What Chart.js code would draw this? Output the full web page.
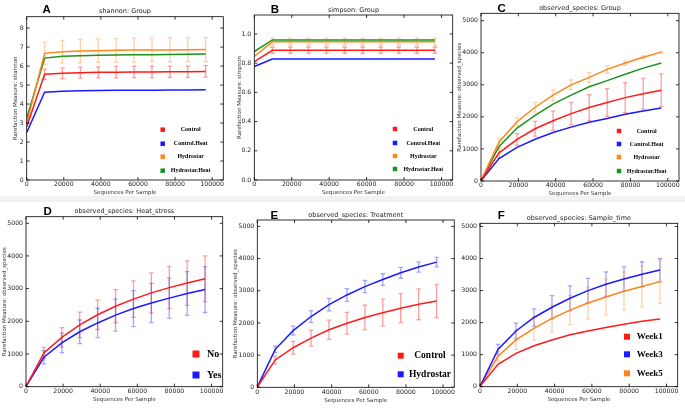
<!DOCTYPE html>
<html>
<head>
<meta charset="utf-8">
<script src="https://cdn.jsdelivr.net/npm/chart.js@4"></script>
<style>
body{margin:0;width:685px;height:408px;background:#fff;position:relative;overflow:hidden}
canvas{position:absolute}
.band{position:absolute;left:0;top:196px;width:685px;height:6px;background:#f2f2f2}
.lbl{position:absolute;font:bold 11.5px "Liberation Sans",Arial,sans-serif;transform:translate(-50%,-50%);color:#000}
</style>
</head>
<body>
<div class="band"></div>
<canvas id="cA"></canvas><canvas id="cB"></canvas><canvas id="cC"></canvas>
<canvas id="cD"></canvas><canvas id="cE"></canvas><canvas id="cF"></canvas>
<div class="lbl" style="left:46.7px;top:8.7px">A</div>
<div class="lbl" style="left:275px;top:8.7px">B</div>
<div class="lbl" style="left:501.7px;top:7.5px">C</div>
<div class="lbl" style="left:47.7px;top:210.5px">D</div>
<div class="lbl" style="left:274.3px;top:214.5px">E</div>
<div class="lbl" style="left:501.3px;top:215px">F</div>
<script>
// sequencing depths (x values of every curve)
let depth=[10,9650,19300,28950,38600,48250,57900,67550,77200,86850,96500]
let xTicks=[0,20000,40000,60000,80000,100000]
let xTickText=["0","20000","40000","60000","80000","100000"]
let shTicks=[0,1,2,3,4,5,6,7,8]
let shTickText=["0","1","2","3","4","5","6","7","8"]
let spTicks=[0,0.2,0.4,0.6,0.8,1.0]
let spTickText=["0.0","0.2","0.4","0.6","0.8","1.0"]
let obsTicks=[0,1000,2000,3000,4000,5000]
let obsTickText=["0","1000","2000","3000","4000","5000"]

let groupNames=["Control","Control.Heat","Hydrostar","Hydrostar.Heat"]
let heatNames=["No","Yes"]
let treatNames=["Control","Hydrostar"]
let weekNames=["Week1","Week3","Week5"]

// A shannon: Group
let shControl=[2.81,5.57,5.62,5.65,5.67,5.68,5.69,5.69,5.70,5.70,5.72]
let shControlErr=[0,0.27,0.28,0.29,0.29,0.30,0.30,0.30,0.30,0.30,0.30]
let shControlHeat=[2.50,4.62,4.68,4.70,4.71,4.72,4.73,4.73,4.74,4.74,4.75]
let shHydrostar=[2.99,6.67,6.75,6.79,6.81,6.83,6.84,6.85,6.85,6.86,6.87]
let shHydrostarErr=[0,0.58,0.60,0.62,0.62,0.62,0.63,0.63,0.63,0.63,0.63]
let shHydrostarHeat=[3.25,6.42,6.52,6.55,6.57,6.58,6.59,6.60,6.61,6.62,6.63]

// B simpson: Group
let spControl=[0.811,0.888,0.888,0.888,0.888,0.888,0.888,0.888,0.888,0.888,0.888]
let spControlErr=[0,0.021,0.021,0.021,0.021,0.021,0.021,0.021,0.021,0.021,0.021]
let spControlHeat=[0.777,0.828,0.828,0.828,0.828,0.828,0.828,0.828,0.828,0.828,0.828]
let spHydrostar=[0.846,0.947,0.947,0.947,0.947,0.947,0.947,0.947,0.947,0.947,0.947]
let spHydrostarErr=[0,0.024,0.024,0.024,0.024,0.024,0.024,0.024,0.024,0.024,0.024]
let spHydrostarHeat=[0.880,0.959,0.959,0.959,0.959,0.959,0.959,0.959,0.959,0.959,0.959]

// C observed_species: Group
let grpControl=[10,880,1300,1630,1880,2100,2290,2450,2600,2720,2830]
let grpControlErr=[0,150,180,230,300,350,400,430,470,480,510]
let grpControlHeat=[10,700,1050,1300,1510,1680,1830,1950,2080,2180,2280]
let grpHydrostar=[12,1220,1850,2300,2680,3000,3230,3480,3680,3860,4020]
let grpHydrostarErr=[0,100,130,150,170,150,150,120,60,40,20]
let grpHydrostarHeat=[11,1080,1650,2050,2400,2680,2940,3130,3330,3520,3680]

// D observed_species: Heat_stress
let heatNo=[10,1030,1510,1890,2200,2460,2680,2870,3030,3170,3300]
let heatNoErr=[0,170,300,390,450,510,560,610,640,680,700]
let heatYes=[10,900,1340,1680,1950,2190,2390,2560,2710,2850,2970]
let heatYesErr=[0,200,300,360,450,490,550,600,620,670,700]

// E observed_species: Treatment
let trtControl=[10,850,1230,1530,1790,1990,2170,2320,2460,2580,2680]
let trtControlErr=[0,120,200,250,300,340,380,420,450,480,510]
let trtHydrostar=[12,1180,1760,2200,2570,2870,3130,3350,3560,3740,3890]
let trtHydrostarErr=[0,100,140,180,190,200,190,180,170,160,150]

// F observed_species: Sample_time
let week1=[10,700,1040,1280,1460,1620,1740,1850,1950,2040,2110]
let week3=[12,1160,1740,2160,2480,2760,3000,3200,3360,3510,3640]
let week3Err=[0,160,240,270,360,390,380,380,380,390,360]
let week5=[11,950,1460,1820,2130,2390,2610,2800,2980,3130,3280]
let week5Err=[0,150,300,360,420,450,500,560,590,640,680]

const RED="#ff1a1a",BLUE="#1a1aff",ORANGE="#ff8419",GREEN="#1c921c"
const ERRC={}
ERRC[RED]="rgba(255,40,40,0.45)"
ERRC[BLUE]="rgba(40,40,255,0.42)"
ERRC[ORANGE]="rgba(255,140,40,0.4)"
ERRC[GREEN]="rgba(30,150,30,0.4)"

// error bars, drawn under the lines
const errorBars={
id:"errorBars",
beforeDatasetsDraw(chart){
let ctx=chart.ctx,xs=chart.scales.x,ys=chart.scales.y
ctx.save()
ctx.lineWidth=1.3
chart.data.datasets.forEach(ds=>{
if(!ds.err) return
ctx.strokeStyle=ERRC[ds.borderColor]
ctx.beginPath()
ds.data.forEach((p,i)=>{
let e=ds.err[i]
if(!e) return
let x=xs.getPixelForValue(p.x)
let y1=ys.getPixelForValue(p.y+e),y2=ys.getPixelForValue(p.y-e)
ctx.moveTo(x,y1);ctx.lineTo(x,y2)
ctx.moveTo(x-2.2,y1);ctx.lineTo(x+2.2,y1)
ctx.moveTo(x-2.2,y2);ctx.lineTo(x+2.2,y2)
})
ctx.stroke()
})
ctx.restore()
}
}

// matplotlib style box with inward ticks
const frame={
id:"frame",
afterDatasetsDraw(chart){
let ctx=chart.ctx,a=chart.chartArea,xs=chart.scales.x,ys=chart.scales.y
ctx.save()
ctx.strokeStyle="#000"
ctx.lineWidth=0.8
ctx.strokeRect(a.left,a.top,a.right-a.left,a.bottom-a.top)
ctx.beginPath()
xs.ticks.forEach(t=>{
let x=xs.getPixelForValue(t.value)
ctx.moveTo(x,a.bottom);ctx.lineTo(x,a.bottom-3)
ctx.moveTo(x,a.top);ctx.lineTo(x,a.top+3)
})
ys.ticks.forEach(t=>{
let y=ys.getPixelForValue(t.value)
ctx.moveTo(a.left,y);ctx.lineTo(a.left+3,y)
ctx.moveTo(a.right,y);ctx.lineTo(a.right-3,y)
})
ctx.stroke()
ctx.restore()
}
}

// legend drawn inside the plot area
const insideLegend={
id:"insideLegend",
afterDraw(chart,args,o){
if(!o.rows) return
let ctx=chart.ctx,a=chart.chartArea
ctx.save()
ctx.font="bold "+o.size+'px "Liberation Serif","DejaVu Serif",serif'
ctx.textBaseline="middle"
ctx.textAlign=o.align
chart.data.datasets.forEach((ds,i)=>{
let y=a.top+o.rows[i]
ctx.fillStyle=ds.borderColor
ctx.fillRect(a.left+o.boxX-o.box/2,y-o.box/2,o.box,o.box)
ctx.fillStyle="#000"
ctx.fillText(ds.label,a.left+o.textX,y)
})
ctx.restore()
}
}

function series(label,vals,color,err){
return {
label:label,
data:depth.map((d,i)=>({x:d,y:vals[i]})),
borderColor:color,
borderWidth:1.5,
pointRadius:0,
tension:0,
err:err
}
}

function panel(id,box,plot,yMax,yTicks,yTickText,yTitle,yTitleX,title,sets,legend){
let cv=document.getElementById(id)
cv.width=box[2];cv.height=box[3]
cv.style.left=box[0]+"px";cv.style.top=box[1]+"px"
let l=plot[0],t=plot[1],r=plot[2],b=plot[3]
let xAxisH=16.3
let tick={size:6.2,family:'"DejaVu Sans",sans-serif'}
new Chart(cv,{
type:"line",
data:{datasets:sets},
plugins:[errorBars,frame,insideLegend],
options:{
responsive:false,
animation:false,
events:[],
layout:{padding:{left:0,top:t-box[1]-8.8,right:box[0]+box[2]-r,bottom:box[1]+box[3]-b-xAxisH}},
plugins:{
legend:{display:false},
tooltip:{enabled:false},
title:{display:true,text:title,fullSize:false,color:"#222",padding:{top:0,bottom:1},
font:{size:6.5,weight:"normal",family:'"DejaVu Sans",sans-serif',lineHeight:1.2}},
insideLegend:legend
},
scales:{
x:{
type:"linear",min:0,max:106000,
grid:{display:false,drawTicks:false},
border:{display:false},
afterBuildTicks:s=>{s.ticks=xTicks.map(v=>({value:v}))},
afterFit:s=>{s.height=xAxisH},
ticks:{autoSkip:false,maxRotation:0,padding:1,color:"#222",font:tick,
callback:(v,i)=>xTickText[i]},
title:{display:true,text:"Sequences Per Sample",color:"#333",padding:0,
font:{size:5.5,family:'"DejaVu Sans",sans-serif',lineHeight:1.2}}
},
y:{
type:"linear",min:0,max:yMax,
grid:{display:false,drawTicks:false},
border:{display:false},
afterBuildTicks:s=>{s.ticks=yTicks.map(v=>({value:v}))},
afterFit:s=>{s.width=l-box[0]},
ticks:{autoSkip:false,padding:3,color:"#222",font:tick,
callback:(v,i)=>yTickText[i]},
title:{display:!!yTitle,text:yTitle,color:"#333",padding:{top:Math.max(0,yTitleX-box[0]-3.3),bottom:0},
font:{size:5.5,family:'"DejaVu Sans",sans-serif',lineHeight:1.2}}
}
}
}
})
}

panel("cA",[0,0,228,198],[26.7,16.7,223.3,180],8.6,shTicks,shTickText,
"Rarefaction Measure: shannon",15.7,"shannon: Group",[
series(groupNames[0],shControl,RED,shControlErr),
series(groupNames[1],shControlHeat,BLUE),
series(groupNames[2],shHydrostar,ORANGE,shHydrostarErr),
series(groupNames[3],shHydrostarHeat,GREEN)
],{rows:[113,127,140,154],boxX:136,textX:164,box:4.5,size:6,align:"center"})

panel("cB",[228,0,228,198],[254.3,15,452.7,180],1.13,spTicks,spTickText,
"Rarefaction Measure: simpson",239.3,"simpson: Group",[
series(groupNames[0],spControl,RED,spControlErr),
series(groupNames[1],spControlHeat,BLUE),
series(groupNames[2],spHydrostar,ORANGE,spHydrostarErr),
series(groupNames[3],spHydrostarHeat,GREEN)
],{rows:[114,128,141,154],boxX:140.7,textX:169,box:4.5,size:6,align:"center"})

panel("cC",[456,0,229,198],[481,13.3,679,181],5230,obsTicks,obsTickText,
"Rarefaction Measure: observed_species",460,"observed_species: Group",[
series(groupNames[0],grpControl,RED,grpControlErr),
series(groupNames[1],grpControlHeat,BLUE),
series(groupNames[2],grpHydrostar,ORANGE,grpHydrostarErr),
series(groupNames[3],grpHydrostarHeat,GREEN)
],{rows:[117.7,130.7,143.7,157.7],boxX:138,textX:165.7,box:4.5,size:6,align:"center"})

panel("cD",[0,200,228,208],[26,216.7,222.7,386.7],5200,obsTicks,obsTickText,
"Rarefaction Measure: observed_species",5,"observed_species: Heat_stress",[
series(heatNames[0],heatNo,RED,heatNoErr),
series(heatNames[1],heatYes,BLUE,heatYesErr)
],{rows:[137.3,158.3],boxX:170,textX:181,box:7,size:10,align:"left"})

panel("cE",[228,200,228,208],[257.3,220,455,387.3],5200,obsTicks,obsTickText,
"Rarefaction Measure: observed_species",236,"observed_species: Treatment",[
series(treatNames[0],trtControl,RED,trtControlErr),
series(treatNames[1],trtHydrostar,BLUE,trtHydrostarErr)
],{rows:[135.7,154.3],boxX:143.4,textX:172.7,box:6,size:9.5,align:"center"})

panel("cF",[456,200,229,208],[480,223.3,677.7,386.7],5100,obsTicks,obsTickText,
"",0,"observed_species: Sample_time",[
series(weekNames[0],week1,RED),
series(weekNames[1],week3,BLUE,week3Err),
series(weekNames[2],week5,ORANGE,week5Err)
],{rows:[113.4,131,150],boxX:147,textX:156.7,box:6,size:9,align:"left"})
</script>
</body>
</html>
